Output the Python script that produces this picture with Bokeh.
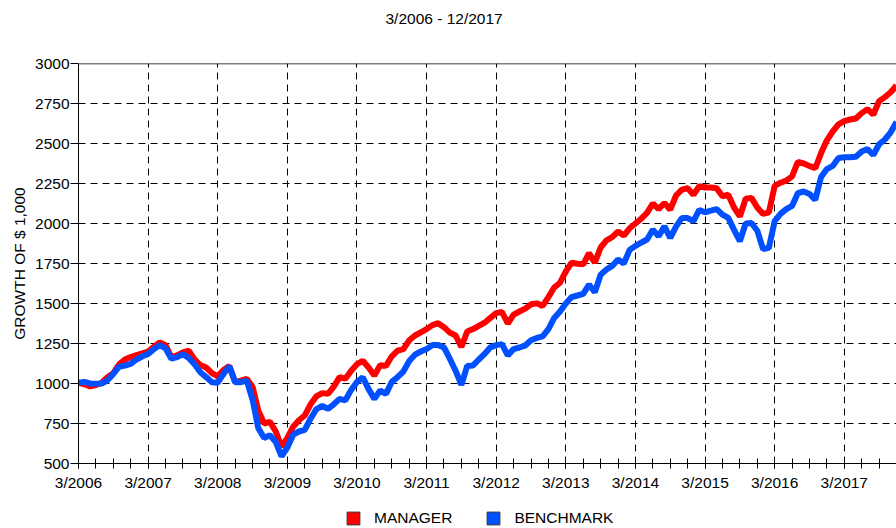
from bokeh.plotting import figure
from bokeh.layouts import column
from bokeh.models import FixedTicker, Span, Legend, LegendItem, Title
from bokeh.embed import file_html
from bokeh.resources import INLINE

# Monthly values, 3/2006 .. 12/2017 (growth of $1,000)
manager = [
    1005, 995, 982, 990, 1005, 1040, 1065, 1120, 1150, 1165, 1178, 1188,
    1200, 1230, 1257, 1240, 1165, 1175, 1195, 1205, 1150, 1115, 1100, 1065,
    1045, 1085, 1110, 1010, 1018, 1029, 980, 830, 750, 760, 700, 605,
    660, 730, 770, 800, 870, 920, 940, 935, 980, 1040, 1030, 1080,
    1120, 1142, 1100, 1050, 1115, 1110, 1170, 1205, 1215, 1270, 1300, 1320,
    1340, 1365, 1377, 1352, 1318, 1300, 1228, 1325, 1340, 1360, 1380, 1410,
    1440, 1447, 1375, 1430, 1450, 1468, 1495, 1501, 1485, 1540, 1600, 1630,
    1700, 1755, 1748, 1745, 1815, 1755, 1850, 1895, 1915, 1950, 1925, 1970,
    2000, 2030, 2066, 2125, 2090, 2128, 2086, 2175, 2212, 2220, 2180, 2233,
    2225, 2225, 2220, 2170, 2180, 2100, 2044, 2155, 2160, 2100, 2060, 2070,
    2235, 2255, 2268, 2295, 2385, 2375, 2360, 2345, 2440, 2520, 2575, 2620,
    2640, 2650, 2656, 2690, 2715, 2680, 2765, 2790, 2820, 2863,
]
benchmark = [
    1005, 1010, 1000, 998, 1000, 1020, 1060, 1105, 1112, 1122, 1150, 1170,
    1185, 1215, 1240, 1220, 1155, 1165, 1184, 1160, 1120, 1070, 1040, 1008,
    1005, 1060, 1108, 1008, 1008, 1018, 900, 720, 660, 676, 635, 545,
    600, 680, 700, 710, 780, 840, 860, 842, 870, 904, 895, 960,
    1010, 1039, 965, 904, 956, 935, 1010, 1040, 1075, 1140, 1180, 1200,
    1215, 1240, 1240, 1226, 1155, 1080, 992, 1110, 1113, 1150, 1185, 1226,
    1240, 1246, 1175, 1215, 1225, 1237, 1270, 1285, 1294, 1340, 1410, 1450,
    1500, 1540, 1550, 1560, 1619, 1570, 1680, 1712, 1735, 1775, 1750, 1835,
    1860, 1880, 1900, 1961, 1920, 1982, 1910, 1980, 2034, 2034, 2015, 2085,
    2070, 2080, 2090, 2055, 2035, 1960, 1889, 2000, 2003, 1955, 1840, 1848,
    2015, 2060, 2090, 2110, 2190, 2200, 2185, 2148, 2290, 2340, 2360, 2410,
    2414, 2414, 2417, 2450, 2465, 2428, 2495, 2525, 2570, 2635,
]
months = list(range(len(manager)))  # months since 3/2006

x_tick_positions = [0, 12, 24, 36, 48, 60, 72, 84, 96, 108, 120, 132]
x_tick_labels = ["3/2006", "3/2007", "3/2008", "3/2009", "3/2010", "3/2011",
                 "3/2012", "3/2013", "3/2014", "3/2015", "3/2016", "3/2017"]
x_minor_positions = list(range(0, 142, 3))
y_ticks = [500, 750, 1000, 1250, 1500, 1750, 2000, 2250, 2500, 2750, 3000]
series_labels = ["MANAGER", "BENCHMARK"]
title_text = "3/2006 - 12/2017"

FONT = "Liberation Sans"
FS = "15.5px"
RED = "#ff0000"
BLUE = "#0050ff"


def blank_strip(height, **kw):
    f = figure(width=896, height=height, output_backend="svg", toolbar_location=None,
               x_axis_location=None, y_axis_location=None, x_range=(0, 1), y_range=(0, 1),
               min_border_left=0, min_border_right=0, **kw)
    f.outline_line_color = None
    f.xgrid.visible = False
    f.ygrid.visible = False
    return f


# title strip
top = blank_strip(40, min_border_top=0, min_border_bottom=0)
top.title = Title(text=title_text, align="left", offset=307, standoff=14,
                  text_font=FONT, text_font_size=FS, text_font_style="normal",
                  text_color="black")

# main chart
p = figure(width=896, height=453, output_backend="svg", toolbar_location=None,
           x_range=(0, 141), y_range=(500, 3000),
           min_border_left=78, min_border_right=0, min_border_top=23, min_border_bottom=28)
p.outline_line_color = None
p.background_fill_color = "white"
p.border_fill_color = "white"

r_m = p.line(months, manager, line_color=RED, line_width=6)
r_b = p.line(months, benchmark, line_color=BLUE, line_width=6)

xa = p.xaxis[0]
xa.ticker = FixedTicker(ticks=x_tick_positions, minor_ticks=x_minor_positions)
xa.major_label_overrides = {t: l for t, l in zip(x_tick_positions, x_tick_labels)}
xa.major_tick_in = 5
xa.major_tick_out = 5
xa.minor_tick_in = 5
xa.minor_tick_out = 5
xa.major_label_standoff = 5
for ax in (p.xaxis[0], p.yaxis[0]):
    ax.axis_line_color = "black"
    ax.major_tick_line_color = "black"
    ax.minor_tick_line_color = "black"
    ax.major_label_text_color = "black"
    ax.major_label_text_font = FONT
    ax.major_label_text_font_size = FS

ya = p.yaxis[0]
ya.ticker = FixedTicker(ticks=y_ticks)
ya.major_tick_in = 0
ya.major_tick_out = 8
ya.minor_tick_line_color = None
ya.major_label_standoff = 1
ya.axis_label = "GROWTH OF $ 1,000"
ya.axis_label_text_font = FONT
ya.axis_label_text_font_size = FS
ya.axis_label_text_font_style = "normal"
ya.axis_label_text_color = "black"
ya.axis_label_standoff = 4

p.xgrid.ticker = FixedTicker(ticks=x_tick_positions)
p.ygrid.ticker = FixedTicker(ticks=y_ticks)
for g in (p.xgrid, p.ygrid):
    g.grid_line_color = "black"
    g.grid_line_width = 1
    g.grid_line_dash = "7 5"

p.add_layout(Span(location=3000, dimension="width", line_color="black", line_width=1.5))

# legend strip (square swatches; proxy glyphs lie outside the strip's ranges)
lf = blank_strip(35, min_border_top=0, min_border_bottom=0)
sw_m = lf.quad(left=[-2], right=[-1], top=[-1], bottom=[-2], fill_color=RED, line_color="#333333")
sw_b = lf.quad(left=[-2], right=[-1], top=[-1], bottom=[-2], fill_color=BLUE, line_color="#333333")
legend = Legend(items=[LegendItem(label=series_labels[0], renderers=[sw_m]),
                       LegendItem(label=series_labels[1], renderers=[sw_b])],
                orientation="horizontal", location=(267, 1),
                glyph_width=16, glyph_height=16, label_height=16,
                label_standoff=13, spacing=33, padding=0, margin=0,
                border_line_color=None, background_fill_alpha=0,
                label_text_font=FONT, label_text_font_size=FS,
                label_text_color="black")
lf.add_layout(legend, "center")

layout = column(top, p, lf, spacing=0)
open("out.html", "w").write(file_html(layout, INLINE))
